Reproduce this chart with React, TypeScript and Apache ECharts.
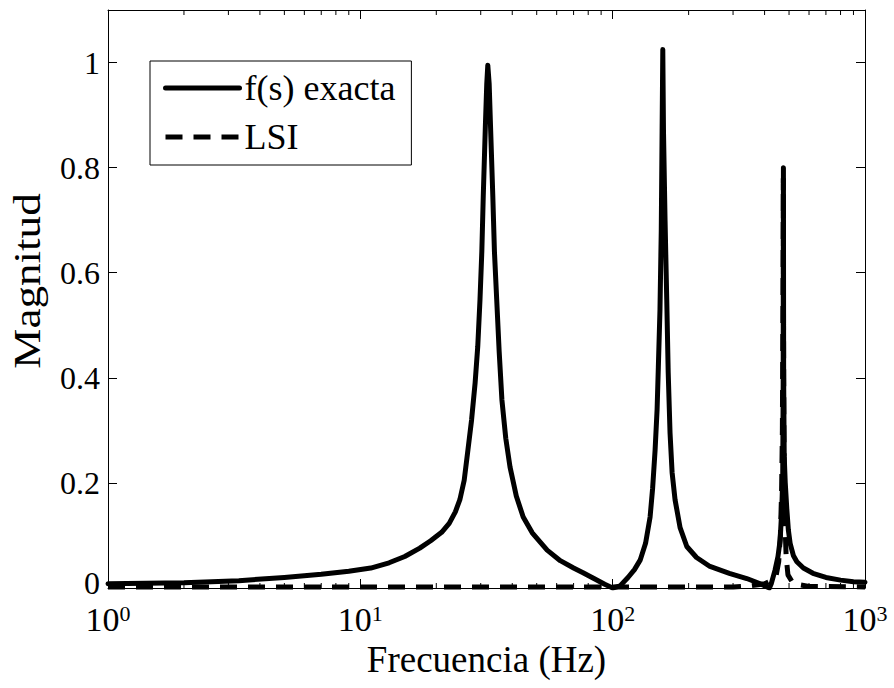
import React, { useEffect, useRef } from "react";
import * as echarts from "echarts";

// Frequency (Hz) and magnitude of f(s) exacta
const exactFreq = [
  1, 2, 3.3, 5, 7, 9, 11, 13, 15, 17.2, 19, 21, 22.5, 23.8, 24.8, 25.8, 26.7, 27.6, 28.5, 29.2, 29.8,
  30.3, 30.7, 31.3, 31.7, 32.0, 32.4, 32.8, 33.5, 34.0, 34.7, 35.5, 36.4, 37.7, 39.2, 41.5, 44.2, 48,
  55, 62, 70, 76.3, 85, 93, 100, 107, 115, 122, 128.5, 135, 140.7, 144, 147.3, 150, 151.7, 154, 155.8,
  157, 158, 159, 161.3, 163.8, 166, 168.8, 172, 176.7, 185, 196.7, 215, 243, 290, 340, 380, 418, 425,
  440, 452, 461, 468, 472, 474, 475, 476, 478.5, 483, 490, 497, 505, 520, 537, 570, 622, 700, 800,
  900, 1000,
];
const exactMag = [
  0.008, 0.01, 0.014, 0.02, 0.026, 0.032, 0.038, 0.048, 0.06, 0.076, 0.09, 0.106, 0.123, 0.145, 0.168,
  0.205, 0.263, 0.32, 0.39, 0.46, 0.549, 0.64, 0.745, 0.88, 0.96, 0.995, 0.96, 0.88, 0.745, 0.64,
  0.55, 0.45, 0.358, 0.285, 0.23, 0.175, 0.135, 0.105, 0.072, 0.052, 0.038, 0.029, 0.017, 0.007, 0.0,
  0.004, 0.02, 0.035, 0.053, 0.085, 0.135, 0.19, 0.263, 0.34, 0.42, 0.53, 0.68, 0.87, 1.025, 0.87,
  0.7, 0.549, 0.41, 0.295, 0.22, 0.168, 0.115, 0.079, 0.058, 0.041, 0.028, 0.018, 0.009, 0.0, 0.008,
  0.034, 0.06, 0.091, 0.15, 0.21, 0.4, 0.8, 0.4, 0.25, 0.2, 0.15, 0.11, 0.085, 0.062, 0.05, 0.038,
  0.028, 0.02, 0.015, 0.012, 0.011,
];

// Frequency (Hz) and magnitude of LSI
const lsiFreq = [1, 10, 100, 300, 350, 400, 430, 445, 455, 462, 467, 470.5, 473, 474.5, 475.5, 477, 479, 482, 487, 495, 520, 600, 1000];
const lsiMag = [0.002, 0.002, 0.002, 0.002, 0.004, 0.008, 0.015, 0.025, 0.05, 0.1, 0.18, 0.3, 0.55, 0.78, 0.5, 0.3, 0.2, 0.12, 0.06, 0.025, 0.008, 0.003, 0.002];

// Axis ticks
const yTicks = [0, 0.2, 0.4, 0.6, 0.8, 1];
const minorTicks = [
  2, 3, 4, 5, 6, 7, 8, 9, 20, 30, 40, 50, 60, 70, 80, 90, 200, 300, 400, 500, 600, 700, 800, 900,
];

const FONT = '"Liberation Serif", "Times New Roman", serif';

export default function App() {
  const ref = useRef<HTMLDivElement>(null);
  useEffect(() => {
    if (!ref.current) return;
    const chart = echarts.init(ref.current, null, { renderer: "svg" });
    const exactData = exactFreq.map((f, i) => [f, exactMag[i]]);
    const lsiData = lsiFreq.map((f, i) => [f, lsiMag[i]]);
    const common = {
      type: "log",
      logBase: 10,
      min: 1,
      max: 1000,
      splitLine: { show: false },
      axisLine: { show: true, onZero: false, lineStyle: { color: "#000", width: 1 } },
      axisTick: { show: true, inside: true, length: 9, lineStyle: { color: "#000" } },
    };
    const yCommon = {
      type: "value",
      min: 0,
      max: 1.1,
      interval: 0.2,
      splitLine: { show: false },
      axisLine: { show: true, lineStyle: { color: "#000", width: 1 } },
      axisTick: { show: true, inside: true, length: 9, lineStyle: { color: "#000" } },
    };
    chart.setOption({
      animation: false,
      backgroundColor: "#fff",
      grid: { left: 108, right: 29, top: 10, bottom: 100, containLabel: false, outerBoundsMode: "none" },
      graphic: [
        {
          type: "text",
          x: 27,
          y: 281,
          rotation: Math.PI / 2,
          scaleX: 1.22,
          style: {
            text: "Magnitud",
            fontFamily: FONT,
            fontSize: 37,
            fill: "#000",
            align: "center",
            verticalAlign: "middle",
          },
        },
      ],
      legend: {
        data: ["f(s) exacta", "LSI"],
        orient: "vertical",
        left: 150,
        top: 61,
        itemWidth: 74,
        itemHeight: 14,
        itemGap: 9,
        padding: [7, 16, 8, 13],
        borderColor: "#000",
        borderWidth: 1,
        backgroundColor: "#fff",
        itemStyle: { opacity: 0 },
        lineStyle: { width: 5 },
        textStyle: { fontFamily: FONT, fontSize: 36, color: "#000", lineHeight: 40 },
      },
      xAxis: [
        {
          ...common,
          position: "bottom",
          name: "Frecuencia (Hz)",
          nameLocation: "middle",
          nameGap: 52,
          nameTextStyle: { fontFamily: FONT, fontSize: 37, color: "#000" },
          axisLabel: {
            margin: 14,
            color: "#000",
            formatter: (v: number) => `{b|10}{s|${Math.round(Math.log10(v))}}`,
            rich: {
              b: { fontFamily: FONT, fontSize: 34, color: "#000", lineHeight: 34 },
              s: { fontFamily: FONT, fontSize: 22, color: "#000", verticalAlign: "top", lineHeight: 22 },
            },
          },
        },
        { ...common, position: "top", axisLabel: { show: false } },
      ],
      yAxis: [
        {
          ...yCommon,
          position: "left",
          axisLabel: {
            margin: 8,
            color: "#000",
            fontFamily: FONT,
            fontSize: 32,
            formatter: (v: number) => {
              if (Math.abs(v) < 1e-9) return "{z|0}";
              return yTicks.some((t) => Math.abs(t - v) < 1e-6) ? String(v) : "";
            },
            rich: {
              z: { fontFamily: FONT, fontSize: 32, color: "#000", lineHeight: 26, padding: [0, 0, 10, 0] },
            },
          },
        },
        { ...yCommon, position: "right", axisLabel: { show: false } },
      ],
      series: [
        {
          name: "minor",
          type: "custom",
          xAxisIndex: 0,
          yAxisIndex: 0,
          silent: true,
          clip: false,
          data: minorTicks.map((v) => [v, 0]),
          renderItem: (_params: any, api: any) => {
            const v = api.value(0);
            const b = api.coord([v, 0]);
            const t = api.coord([v, 1.1]);
            return {
              type: "group",
              children: [
                { type: "line", shape: { x1: b[0], y1: b[1], x2: b[0], y2: b[1] - 5 }, style: { stroke: "#000", lineWidth: 1 } },
                { type: "line", shape: { x1: t[0], y1: t[1], x2: t[0], y2: t[1] + 5 }, style: { stroke: "#000", lineWidth: 1 } },
              ],
            };
          },
        },
        {
          name: "LSI",
          type: "line",
          data: lsiData,
          symbol: "none",
          showSymbol: false,
          lineStyle: { color: "#000", width: 5, type: [17, 11] },
          itemStyle: { color: "#000" },
          z: 3,
        },
        {
          name: "f(s) exacta",
          type: "line",
          data: exactData,
          symbol: "none",
          showSymbol: false,
          lineStyle: { color: "#000", width: 5, join: "round", cap: "round" },
          itemStyle: { color: "#000" },
          z: 4,
        },
      ],
    });
    return () => chart.dispose();
  }, []);
  return <div ref={ref} style={{ position: "fixed", left: 0, top: 0, width: 894, height: 688 }} />;
}
